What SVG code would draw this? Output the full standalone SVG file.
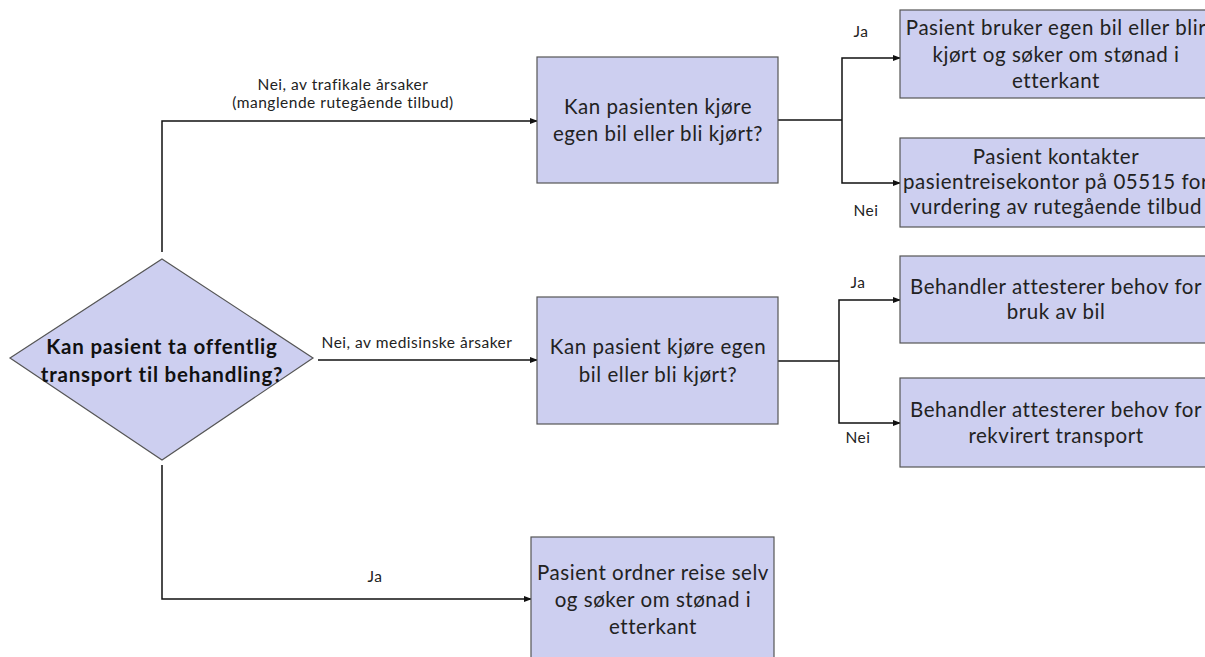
<svg xmlns="http://www.w3.org/2000/svg" width="1205" height="657" viewBox="0 0 1205 657">
<style>
.node{fill:#cdcff0;stroke:#555;stroke-width:1.2}
.t{font-family:Lato,"Liberation Sans",sans-serif;font-size:20.5px;letter-spacing:0.55px;fill:#222;text-anchor:middle}
.b{font-family:Lato,"Liberation Sans",sans-serif;font-size:20.5px;letter-spacing:0.8px;font-weight:bold;fill:#111;text-anchor:middle}
.l{font-family:Lato,"Liberation Sans",sans-serif;font-size:15.5px;letter-spacing:0.5px;fill:#222;text-anchor:middle}
.c{fill:none;stroke:#111;stroke-width:1.5}
</style>
<defs>
<marker id="ah" markerWidth="8" markerHeight="6" refX="7" refY="3" orient="auto" markerUnits="userSpaceOnUse">
<path d="M0,0 L8,3 L0,6 Z" fill="#111"/>
</marker>
</defs>
<rect width="1205" height="657" fill="#fff"/>
<g id="connectors">
<path class="c" d="M162,252 V121 H537" marker-end="url(#ah)"/>
<path class="c" d="M318,360 H537" marker-end="url(#ah)"/>
<path class="c" d="M162,465 V599 H531" marker-end="url(#ah)"/>
<path class="c" d="M778,120 H842"/>
<path class="c" d="M842,120 V58 H900" marker-end="url(#ah)"/>
<path class="c" d="M842,120 V183 H900" marker-end="url(#ah)"/>
<path class="c" d="M778,361 H839"/>
<path class="c" d="M839,361 V300 H900" marker-end="url(#ah)"/>
<path class="c" d="M839,361 V423 H900" marker-end="url(#ah)"/>
<text class="l" x="343" y="90">Nei, av trafikale årsaker</text>
<text class="l" x="343" y="108">(manglende rutegående tilbud)</text>
<text class="l" x="417" y="348">Nei, av medisinske årsaker</text>
<text class="l" x="375" y="582">Ja</text>
<text class="l" x="861" y="37">Ja</text>
<text class="l" x="866" y="216">Nei</text>
<text class="l" x="858" y="288">Ja</text>
<text class="l" x="858" y="443">Nei</text>
</g>
<g id="decision">
<polygon class="node" points="162,259 313,358 162,460 10,358"/>
<text class="b" x="162" y="354">Kan pasient ta offentlig</text>
<text class="b" x="162" y="382">transport til behandling?</text>
</g>
<g id="q-trafikk">
<rect class="node" x="537" y="57" width="241" height="126"/>
<text class="t" x="658" y="114">Kan pasienten kjøre</text>
<text class="t" x="658" y="141">egen bil eller bli kjørt?</text>
</g>
<g id="q-medisinsk">
<rect class="node" x="537" y="297" width="241" height="127"/>
<text class="t" x="658" y="354">Kan pasient kjøre egen</text>
<text class="t" x="658" y="382">bil eller bli kjørt?</text>
</g>
<g id="ja-selv">
<rect class="node" x="531" y="537" width="243" height="130"/>
<text class="t" x="653" y="580">Pasient ordner reise selv</text>
<text class="t" x="653" y="607">og søker om stønad i</text>
<text class="t" x="653" y="634">etterkant</text>
</g>
<g id="egen-bil">
<rect class="node" x="900" y="10" width="312" height="88"/>
<text class="t" x="1056" y="35">Pasient bruker egen bil eller blir</text>
<text class="t" x="1056" y="62">kjørt og søker om stønad i</text>
<text class="t" x="1056" y="88">etterkant</text>
</g>
<g id="kontakt">
<rect class="node" x="900" y="138" width="312" height="89"/>
<text class="t" x="1056" y="164">Pasient kontakter</text>
<text class="t" x="1056" y="189">pasientreisekontor på 05515 for</text>
<text class="t" x="1056" y="214">vurdering av rutegående tilbud</text>
</g>
<g id="attest-bil">
<rect class="node" x="900" y="256" width="312" height="87"/>
<text class="t" x="1056" y="294">Behandler attesterer behov for</text>
<text class="t" x="1056" y="319">bruk av bil</text>
</g>
<g id="attest-transport">
<rect class="node" x="900" y="378" width="312" height="89"/>
<text class="t" x="1056" y="417">Behandler attesterer behov for</text>
<text class="t" x="1056" y="443">rekvirert transport</text>
</g>
</svg>
